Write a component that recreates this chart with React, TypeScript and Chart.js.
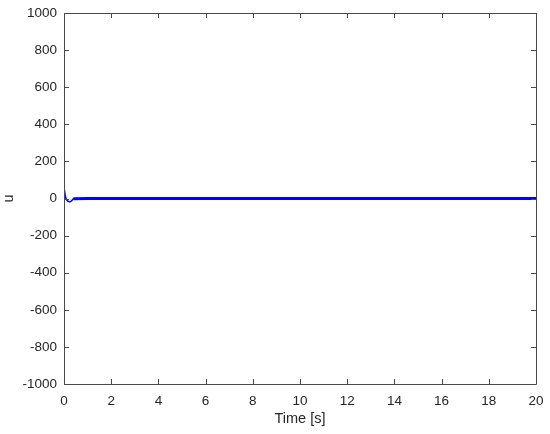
import React, { useEffect, useRef } from "react";
import { Chart, registerables } from "chart.js";

Chart.register(...registerables);

// Data
const transientTime = [0, 0.03, 0.06, 0.1, 0.15, 0.2, 0.25, 0.3, 0.35, 0.4, 0.45];
const transientU = [60, 35, 12, -5, -13, -17, -18, -15, -8, -2, 0];
const steadyTime = [0.4, 1, 2, 3, 4, 5, 6, 7, 8, 9, 10, 11, 12, 13, 14, 15, 16, 17, 18, 19, 20];
const steadyU = [-2, 0, 0, 0, 0, 0, 0, 0, 0, 0, 0, 0, 0, 0, 0, 0, 0, 0, 0, 0, 0];
const xTicks = [0, 2, 4, 6, 8, 10, 12, 14, 16, 18, 20];
const yTicks = [-1000, -800, -600, -400, -200, 0, 200, 400, 600, 800, 1000];

const AXIS_COLOR = "#4a4a4a";
const TEXT_COLOR = "#262626";
const FONT_FAMILY = "'Liberation Sans', Arial, Helvetica, sans-serif";

const frameAndTicks = {
  id: "frameAndTicks",
  afterDraw(chart: any) {
    const { ctx, chartArea, scales } = chart;
    const { left, right, top, bottom } = chartArea;
    ctx.save();
    ctx.strokeStyle = AXIS_COLOR;
    ctx.lineWidth = 1;
    ctx.beginPath();
    ctx.rect(Math.round(left) + 0.5, Math.round(top) + 0.5, Math.round(right - left), Math.round(bottom - top));
    ctx.stroke();
    const len = 5;
    ctx.beginPath();
    for (const v of xTicks) {
      const px = Math.round(scales.x.getPixelForValue(v)) + 0.5;
      ctx.moveTo(px, bottom);
      ctx.lineTo(px, bottom - len);
      ctx.moveTo(px, top);
      ctx.lineTo(px, top + len);
    }
    for (const v of yTicks) {
      const py = Math.round(scales.y.getPixelForValue(v)) + 0.5;
      ctx.moveTo(left, py);
      ctx.lineTo(left + len, py);
      ctx.moveTo(right, py);
      ctx.lineTo(right - len, py);
    }
    ctx.stroke();
    ctx.restore();
  },
};

export default function App() {
  const ref = useRef<HTMLCanvasElement | null>(null);

  useEffect(() => {
    document.body.style.margin = "0";
    if (!ref.current) return;
    const chart = new Chart(ref.current, {
      type: "line",
      data: {
        datasets: [
          {
            data: transientTime.map((t, i) => ({ x: t, y: transientU[i] })),
            borderColor: "rgb(0,0,255)",
            borderWidth: 1.5,
            pointRadius: 0,
            tension: 0.3,
          },
          {
            data: steadyTime.map((t, i) => ({ x: t, y: steadyU[i] })),
            borderColor: "rgb(0,0,255)",
            borderWidth: 3,
            pointRadius: 0,
            tension: 0,
          },
        ],
      },
      options: {
        animation: false,
        responsive: false,
        maintainAspectRatio: false,
        layout: { padding: { top: 13, right: 14, left: 0, bottom: 0 } },
        plugins: { legend: { display: false }, tooltip: { enabled: false } },
        scales: {
          x: {
            type: "linear",
            min: 0,
            max: 20,
            afterFit: (s: any) => {
              s.height = 50;
              s.paddingLeft = 0;
              s.paddingRight = 0;
            },
            afterBuildTicks: (s: any) => {
              s.ticks = xTicks.map((v) => ({ value: v }));
            },
            grid: { display: false, drawTicks: false },
            border: { display: false },
            ticks: {
              color: TEXT_COLOR,
              font: { family: FONT_FAMILY, size: 13.5 },
              padding: 9,
              maxRotation: 0,
              autoSkip: false,
              callback: (v: any) => String(v),
            },
            title: {
              display: true,
              text: "Time [s]",
              color: TEXT_COLOR,
              font: { family: FONT_FAMILY, size: 14.5 },
              padding: { top: 0, bottom: 6 },
            },
          },
          y: {
            type: "linear",
            min: -1000,
            max: 1000,
            afterFit: (s: any) => {
              s.width = 64;
              s.paddingTop = 0;
              s.paddingBottom = 0;
            },
            afterBuildTicks: (s: any) => {
              s.ticks = yTicks.map((v) => ({ value: v }));
            },
            grid: { display: false, drawTicks: false },
            border: { display: false },
            ticks: {
              color: TEXT_COLOR,
              font: { family: FONT_FAMILY, size: 13.5 },
              padding: 7,
              autoSkip: false,
              callback: (v: any) => String(v),
            },
            title: {
              display: true,
              text: "u",
              color: TEXT_COLOR,
              font: { family: FONT_FAMILY, size: 14.5 },
              padding: { top: 0, bottom: 0 },
            },
          },
        },
      },
      plugins: [frameAndTicks],
    });
    return () => chart.destroy();
  }, []);

  return <canvas ref={ref} width={550} height={434} style={{ display: "block", width: 550, height: 434 }} />;
}
